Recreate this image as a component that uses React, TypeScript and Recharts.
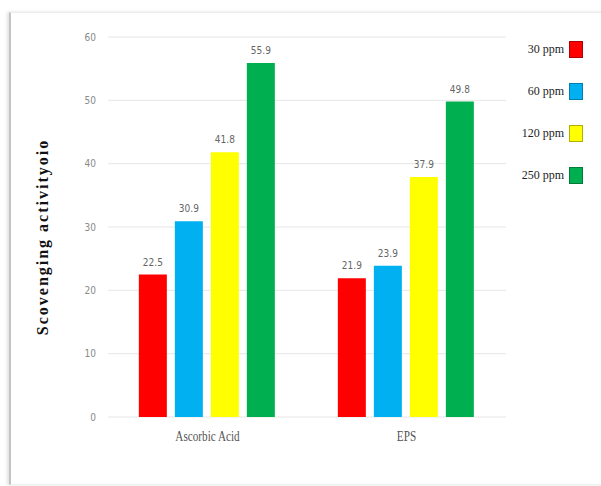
import React from 'react';
import { BarChart, Bar, XAxis, YAxis, CartesianGrid, LabelList, Label } from 'recharts';

const categories = ['Ascorbic Acid', 'EPS'];
const seriesNames = ['30 ppm', '60 ppm', '120 ppm', '250 ppm'];
const seriesKeys = ['p30', 'p60', 'p120', 'p250'];
const values30 = [22.5, 21.9];
const values60 = [30.9, 23.9];
const values120 = [41.8, 37.9];
const values250 = [55.9, 49.8];
const colors = ['#fe0000', '#00b0f0', '#ffff00', '#00b050'];
const borderColors = ['#b00000', '#0080b0', '#b0b000', '#007a3a'];
const yTicks = [0, 10, 20, 30, 40, 50, 60];
const yLabel = 'Scovenging activityoio';

const seriesValues = [values30, values60, values120, values250];
const data = categories.map((c, i) => {
  const row: Record<string, string | number> = { name: c };
  seriesKeys.forEach((k, j) => {
    row[k] = seriesValues[j][i];
  });
  return row;
});

const numFont = "'Liberation Sans Narrow', 'DejaVu Sans Condensed', 'Roboto', sans-serif";
const serifFont = "'Liberation Serif', 'DejaVu Serif', serif";

const XTick = (props: any) => {
  const { x, y, payload } = props;
  return (
    <g transform={`translate(${x},${y})`}>
      <text
        x={0}
        y={0}
        dy={14}
        textAnchor="middle"
        transform="scale(0.8,1)"
        fill="#555"
        fontSize={14}
        fontFamily={serifFont}
      >
        {payload.value}
      </text>
    </g>
  );
};

export default function App() {
  return (
    <div style={{ position: 'absolute', left: 0, top: 0, width: 601, height: 486, background: '#fff', overflow: 'hidden' }}>
      <div
        style={{
          position: 'absolute',
          left: 9,
          top: 12,
          width: 600,
          height: 471,
          borderLeft: '2px solid #c4c4c4',
          borderTop: '1px solid #ececec',
          borderBottom: '1px solid #f0f0f0',
          boxShadow: '-2px 0 3px rgba(0,0,0,0.12)',
        }}
      />
      <div style={{ position: 'absolute', left: 0, top: 0 }}>
        <BarChart
          width={601}
          height={486}
          data={data}
          margin={{ top: 37, right: 95, bottom: 39, left: 0 }}
          barCategoryGap="15.5%"
          barGap={8}
        >
          <CartesianGrid vertical={false} stroke="#e6e6e6" />
          <XAxis
            dataKey="name"
            height={30}
            axisLine={false}
            tickLine={false}
            tickMargin={4}
            tick={<XTick />}
          />
          <YAxis
            width={108}
            domain={[0, 60]}
            ticks={yTicks}
            axisLine={false}
            tickLine={false}
            tickMargin={6}
            tick={{ fill: '#8a8a8a', fontSize: 10, fontFamily: numFont }}
          >
            <Label
              content={() => (
                <text
                  x={48}
                  y={237}
                  transform="rotate(-90 48 237)"
                  textAnchor="middle"
                  fontFamily={serifFont}
                  fontWeight="bold"
                  fontSize={16}
                  letterSpacing={2}
                  fill="#111"
                >
                  {yLabel}
                </text>
              )}
            />
          </YAxis>
          {seriesKeys.map((k, i) => (
            <Bar key={k} dataKey={k} name={seriesNames[i]} fill={colors[i]} isAnimationActive={false}>
              <LabelList
                dataKey={k}
                position="top"
                offset={9}
                fill="#666"
                fontSize={10}
                fontFamily={numFont}
              />
            </Bar>
          ))}
        </BarChart>
      </div>
      {seriesNames.map((n, i) => (
        <div
          key={n}
          style={{
            position: 'absolute',
            right: 601 - 583,
            top: 41 + i * 42,
            display: 'flex',
            alignItems: 'center',
            fontFamily: serifFont,
            fontSize: 12,
            color: '#222',
          }}
        >
          <span style={{ marginRight: 5 }}>{n}</span>
          <span
            style={{
              display: 'inline-block',
              width: 12,
              height: 15,
              background: colors[i],
              border: `1px solid ${borderColors[i]}`,
            }}
          />
        </div>
      ))}
    </div>
  );
}
